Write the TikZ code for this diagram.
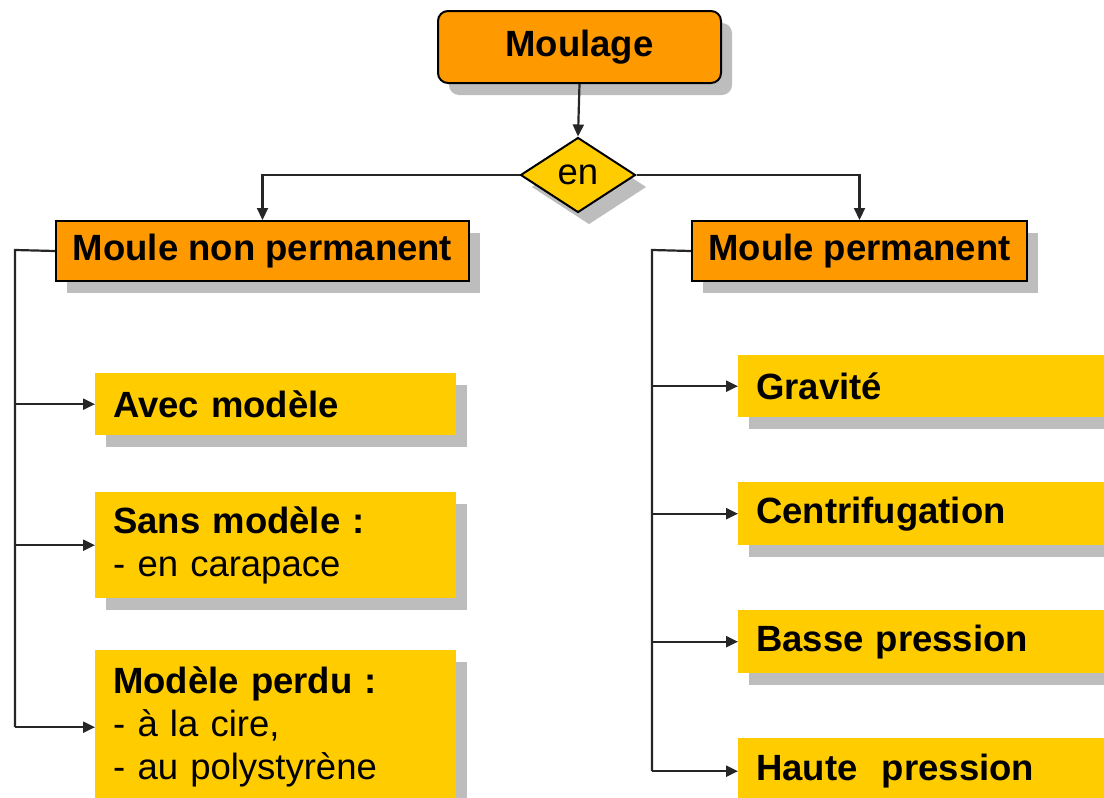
\documentclass[tikz,border=0pt]{standalone}
\usepackage{fontspec}
\setmainfont{Liberation Sans}
\usetikzlibrary{shapes.geometric,shadows,arrows.meta}
\definecolor{orangebox}{HTML}{FF9900}
\definecolor{yellowbox}{HTML}{FFCC00}
\definecolor{shadowgray}{HTML}{BDBDBD}
\tikzset{
  shad/.style={drop shadow={shadow xshift=11pt,shadow yshift=-12pt,fill=shadowgray,opacity=1}},
  obox/.style={draw=black,line width=2pt,fill=orangebox,shad,anchor=north west,inner sep=0pt,
    font=\fontsize{36.5}{43}\selectfont\bfseries},
  ybox/.style={fill=yellowbox,shad,anchor=north west,inner xsep=18pt,inner ysep=0pt,align=left,
    font=\fontsize{36.5}{43}\selectfont},
  conn/.style={line width=2.2pt,draw=black!85},
  arr/.style={conn,-{Triangle[length=12pt,width=11pt]}},
}
\begin{document}
\begin{tikzpicture}[x=1pt,y=-1pt]
\useasboundingbox (0,0) rectangle (1104,798);
% top
\node[obox,rounded corners=10pt,minimum width=283pt,minimum height=72pt] (moulage) at (437,10) {Moulage};
\node[diamond,draw=black,line width=2pt,fill=yellowbox,shad,minimum width=115pt,minimum height=75pt,inner sep=0pt,
  font=\fontsize{36.5}{43}\selectfont] (en) at (578,175) {en};
\node[obox,minimum width=413pt,minimum height=60pt] (mnp) at (55,220) {Moule non permanent};
\node[obox,minimum width=335pt,minimum height=60pt] (mp) at (691,220) {Moule permanent};
% left children
\node[ybox,minimum width=361pt,minimum height=62pt,text width=325pt] (avec) at (95,373) {\bfseries Avec modèle};
\node[ybox,minimum width=361pt,minimum height=106pt,text width=325pt] (sans) at (95,492) {\textbf{Sans modèle :}\\- en carapace};
\node[ybox,minimum width=361pt,minimum height=154pt,text width=325pt] (perdu) at (95,650) {\textbf{Modèle perdu :}\\- à la cire,\\- au polystyrène};
% right children
\node[ybox,minimum width=366pt,minimum height=62pt,text width=330pt] (grav) at (738,355) {\bfseries Gravité};
\node[ybox,minimum width=366pt,minimum height=63pt,text width=330pt] (cent) at (738,482) {\bfseries Centrifugation};
\node[ybox,minimum width=366pt,minimum height=63pt,text width=330pt] (basse) at (738,610) {\bfseries Basse pression};
\node[ybox,minimum width=366pt,minimum height=66pt,text width=330pt] (haute) at (738,738) {\bfseries Haute\ \ pression};
% connectors
\draw[arr] (moulage.south) -- (en.north);
\draw[arr] (en.west) -| (mnp.north);
\draw[arr] (en.east) -| (mp.north);
\coordinate (ltop) at (15,250);
\coordinate (rtop) at (652,250);
\draw[conn] (mnp.west) -- (ltop) -- (ltop |- perdu.west);
\draw[arr] (ltop |- avec.west) -- (avec.west);
\draw[arr] (ltop |- sans.west) -- (sans.west);
\draw[arr] (ltop |- perdu.west) -- (perdu.west);
\draw[conn] (mp.west) -- (rtop) -- (rtop |- haute.west);
\draw[arr] (rtop |- grav.west) -- (grav.west);
\draw[arr] (rtop |- cent.west) -- (cent.west);
\draw[arr] (rtop |- basse.west) -- (basse.west);
\draw[arr] (rtop |- haute.west) -- (haute.west);
\end{tikzpicture}
\end{document}
